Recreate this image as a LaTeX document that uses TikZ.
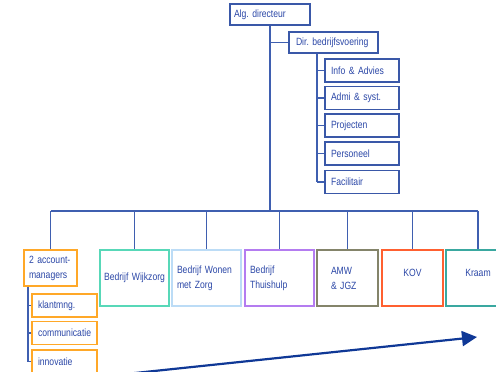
\documentclass[tikz,border=0pt]{standalone}
\usepackage{fontspec}
\setmainfont[FakeStretch=0.82,WordSpace=0.6]{Liberation Sans}
\frenchspacing
\usetikzlibrary{arrows.meta}

\definecolor{navyline}{HTML}{3A58A8}
\definecolor{txtblue}{HTML}{2A46A6}
\definecolor{connblue}{HTML}{3F5FB0}
\definecolor{accorange}{HTML}{FFA828}
\definecolor{wijkgreen}{HTML}{58D8B8}
\definecolor{wonenblue}{HTML}{BCDCF6}
\definecolor{thuispurple}{HTML}{B47CF0}
\definecolor{amwolive}{HTML}{84846A}
\definecolor{kovred}{HTML}{FF6030}
\definecolor{kraamteal}{HTML}{3AA8A0}
\definecolor{trendblue}{HTML}{0F3896}

\tikzset{
  orgbox/.style={draw, rectangle, line width=1.2pt, inner sep=0pt,
    text=txtblue, font=\fontsize{10.5}{15}\selectfont\frenchspacing, align=left},
  staffbox/.style={orgbox, draw=navyline, minimum width=74pt,
    minimum height=23pt, text width=62pt},
  unitbox/.style={orgbox, minimum width=69pt, minimum height=56pt},
  taskbox/.style={orgbox, draw=accorange, minimum width=65pt,
    minimum height=23pt, text width=53pt},
  conn/.style={draw=connblue, line width=1.1pt},
  trend/.style={draw=trendblue, line width=2.2pt,
    -{Triangle[length=15pt,width=15pt]}}
}

\begin{document}
\begin{tikzpicture}[x=1pt,y=-1pt]
\useasboundingbox (0,0) rectangle (496,372);

% top management
\node[orgbox, draw=navyline, minimum width=80pt, minimum height=21pt,
      text width=72pt] (alg) at (270,14.5) {Alg. directeur};
\node[orgbox, draw=navyline, minimum width=89pt, minimum height=21pt,
      text width=75pt] (dir) at (333.5,42.5) {Dir. bedrijfsvoering};

% staff departments
\node[staffbox] (info)   at (362,70.5)  {Info \& Advies};
\node[staffbox] (admi)   at (362,98)    {Admi \& syst.};
\node[staffbox] (proj)   at (362,125.5) {Projecten};
\node[staffbox] (pers)   at (362,153.5) {Personeel};
\node[staffbox] (facil)  at (362,182)   {Facilitair};

% business units
\node[orgbox, draw=accorange, minimum width=53pt, minimum height=36pt,
      text width=43pt] (acc) at (50.5,268) {2 account-\\managers};
\node[unitbox, draw=wijkgreen, text width=65pt, align=center]
      (wijk) at (134.5,278) {Bedrijf Wijkzorg};
\node[unitbox, draw=wonenblue, text width=59pt]
      (wonen) at (206.5,278) {Bedrijf Wonen\\met Zorg};
\node[unitbox, draw=thuispurple, text width=59pt]
      (thuis) at (279.5,278) {Bedrijf\\Thuishulp};
\node[unitbox, draw=amwolive, minimum width=61pt, text width=33pt]
      (amw) at (347.5,278) {AMW\\\& JGZ};
\node[unitbox, draw=kovred, minimum width=61pt, text width=55pt, align=center]
      (kov) at (412.5,278) {\raisebox{0pt}[7pt][10pt]{KOV}};
\node[unitbox, draw=kraamteal, minimum width=64pt, text width=58pt, align=center]
      (kraam) at (478,278) {\raisebox{0pt}[7pt][10pt]{Kraam}};

% account manager tasks
\node[taskbox] (klant) at (64.5,305.5) {klantmng.};
\node[taskbox] (comm)  at (64.5,333)   {communicatie};
\node[taskbox] (innov) at (64.5,361.5) {innovatie};

% trunk and branch lines
\coordinate (bus) at (0,211);
\coordinate (dirtrunk) at (317,0);
\coordinate (acctrunk) at (28,0);

\draw[conn] (alg.south) -- (alg.south |- bus);
\draw[conn] (alg.south |- dir.west) -- (dir.west);

\draw[conn] (dir.south -| dirtrunk) -- (facil.west -| dirtrunk);
\foreach \n in {info,admi,proj,pers,facil}
  \draw[conn] (\n.west -| dirtrunk) -- (\n.west);

\draw[conn] (acc.north |- bus) -- (kraam.north |- bus);
\foreach \n in {acc,wijk,wonen,thuis,amw,kov,kraam}
  \draw[conn] (\n.north |- bus) -- (\n.north);

\draw[conn] (acc.south -| acctrunk) -- (innov.west -| acctrunk);
\foreach \n in {klant,comm,innov}
  \draw[conn] (\n.west -| acctrunk) -- (\n.west);

% development arrow
\coordinate (arrtail) at (120,374.6);
\coordinate (arrhead) at (477,337);
\draw[trend] (arrtail) -- (arrhead);
\end{tikzpicture}
\end{document}
